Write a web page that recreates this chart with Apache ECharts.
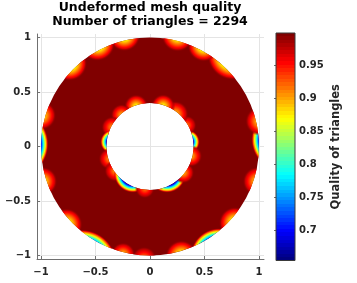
<!DOCTYPE html>
<html>
<head>
<meta charset="utf-8">
<script src="https://cdn.jsdelivr.net/npm/echarts@6/dist/echarts.min.js"></script>
<style>html,body{margin:0;padding:0;background:#fff}#c{width:357px;height:283px}</style>
</head>
<body>
<div id="c"></div>
<script>
// ---------------- data ----------------
const chartTitle = 'Undeformed mesh quality\nNumber of triangles = 2294';
const colorbarTitle = 'Quality of triangles';
const axisTicks = [-1, -0.5, 0, 0.5, 1];
const colorbarTicks = [0.7, 0.75, 0.8, 0.85, 0.9, 0.95];
const qualityLimits = [0.655, 0.999];
const ringRadii = [0.4, 1.0];          // inner, outer radius of the annulus
const bulkQuality = 0.999;              // quality of most triangles

// low-quality spots along the boundaries ('o' outer, 'i' inner)
const spotEdge    = ['o','o','o','o','o','o','o','o','o','o','o','o','o','o','o','o','o','o','o',
                     'i','i','i','i','i','i','i','i','i','i','i','i','i','i','i'];
const spotAngle   = [  3,  13,  48,  62,  76, 103, 117, 134, 164, 179, 198, 223, 240, 256, 267, 286, 302, 318, 342,
                       7,  30,  52,  72, 109, 132, 153, 173, 197, 215, 238, 263, 302, 322, 347];
const spotQuality = [0.71,0.90,0.87,0.87,0.88,0.87,0.87,0.87,0.89,0.70,0.89,0.88,0.76,0.90,0.93,0.88,0.73,0.88,0.90,
                     0.70,0.92,0.90,0.87,0.87,0.90,0.91,0.70,0.91,0.91,0.67,0.92,0.67,0.90,0.90];
const spotDepth   = [0.07,0.10,0.10,0.10,0.10,0.10,0.10,0.10,0.10,0.07,0.10,0.10,0.07,0.09,0.08,0.10,0.07,0.10,0.10,
                     0.06,0.08,0.10,0.10,0.10,0.09,0.09,0.06,0.09,0.09,0.07,0.08,0.07,0.09,0.09];
const spotHalfLen = [0.19,0.13,0.19,0.14,0.14,0.14,0.15,0.15,0.13,0.20,0.13,0.14,0.20,0.11,0.11,0.14,0.18,0.14,0.13,
                     0.10,0.09,0.12,0.11,0.11,0.10,0.10,0.10,0.10,0.10,0.14,0.09,0.14,0.10,0.10];

// ---------------- helpers ----------------
const FONT = 'DejaVu Sans';
const TXT = '#262626';
const LINE = '#707070';
function jet(q, alpha) {
  let t = (q - qualityLimits[0]) / (qualityLimits[1] - qualityLimits[0]);
  t = Math.max(0, Math.min(1, t));
  const c = v => Math.round(255 * Math.max(0, Math.min(1, v)));
  const r = c(1.5 - Math.abs(4 * t - 3)), g = c(1.5 - Math.abs(4 * t - 2)), b = c(1.5 - Math.abs(4 * t - 1));
  return 'rgba(' + r + ',' + g + ',' + b + ',' + (alpha == null ? 1 : alpha) + ')';
}
const fmt = v => String(v).replace('-', '\u2212');

const spotData = spotAngle.map((a, i) => [a, spotQuality[i], spotDepth[i], spotHalfLen[i], spotEdge[i] === 'o' ? 1 : -1]);

// colorbar bands (64-colour jet map)
const cbStops = [];
for (let k = 0; k < 64; k++) {
  const col = jet(qualityLimits[1] - (qualityLimits[1] - qualityLimits[0]) * k / 63);
  cbStops.push({offset: k / 64, color: col}, {offset: (k + 1) / 64, color: col});
}

const chart = echarts.init(document.getElementById('c'), null, {renderer: 'canvas'});
chart.setOption({
  animation: false,
  backgroundColor: '#fff',
  title: {
    text: chartTitle, left: 150, top: 1, padding: 0, textAlign: 'center',
    textStyle: {fontFamily: FONT, fontSize: 12.5, fontWeight: 'bold', color: '#000', lineHeight: 14}
  },
  grid: [
    {left: 37, top: 34, width: 227, height: 225},
    {left: 276, top: 33, width: 19, height: 227.5}
  ],
  xAxis: [
    {gridIndex: 0, type: 'value', min: -1.0367, max: 1.0459,
     axisLine: {show: true, onZero: false, lineStyle: {color: LINE}},
     axisTick: {show: true, inside: true, length: 3, customValues: axisTicks, lineStyle: {color: LINE}},
     axisLabel: {customValues: axisTicks, formatter: fmt, margin: 8, fontSize: 10, fontWeight: 'bold', color: TXT, fontFamily: FONT},
     splitLine: {show: true, lineStyle: {color: '#e4e4e4'}}},
    {gridIndex: 1, type: 'value', min: 0, max: 1, show: false}
  ],
  yAxis: [
    {gridIndex: 0, type: 'value', min: -1.032, max: 1.032,
     axisLine: {show: true, onZero: false, lineStyle: {color: LINE}},
     axisTick: {show: true, inside: true, length: 3, customValues: axisTicks, lineStyle: {color: LINE}},
     axisLabel: {customValues: axisTicks, formatter: fmt, margin: 6, fontSize: 10, fontWeight: 'bold', color: TXT, fontFamily: FONT},
     splitLine: {show: true, lineStyle: {color: '#e4e4e4'}}},
    {gridIndex: 1, type: 'value', position: 'right', min: qualityLimits[0], max: qualityLimits[1],
     axisLine: {show: false},
     axisTick: {show: true, inside: true, length: 2, customValues: colorbarTicks, lineStyle: {color: LINE}},
     axisLabel: {customValues: colorbarTicks, margin: 4, fontSize: 10, fontWeight: 'bold', color: TXT, fontFamily: FONT},
     splitLine: {show: false},
     name: colorbarTitle, nameLocation: 'middle', nameRotate: 90, nameGap: 35,
     nameTextStyle: {fontFamily: FONT, fontSize: 11.5, fontWeight: 'bold', color: TXT}}
  ],
  series: [
    { // the annulus of triangles
      type: 'custom', xAxisIndex: 0, yAxisIndex: 0, silent: true,
      data: [[ringRadii[0], ringRadii[1], bulkQuality]],
      renderItem: (params, api) => {
        const O = api.coord([0, 0]);
        const unit = api.size([1, 1])[0];
        return {type: 'sector', shape: {cx: O[0], cy: O[1], r0: api.value(0) * unit, r: api.value(1) * unit,
                startAngle: 0, endAngle: Math.PI * 2}, style: {fill: jet(api.value(2))}};
      }
    },
    { // low-quality spots near the boundaries
      type: 'custom', xAxisIndex: 0, yAxisIndex: 0, silent: true,
      data: spotData,
      renderItem: (params, api) => {
        const a = api.value(0) * Math.PI / 180, q = api.value(1), t = api.value(2);
        const L = Math.max(api.value(3), t), side = api.value(4);
        const Rb = side > 0 ? ringRadii[1] : ringRadii[0];
        const d = (L * L / t - t) / 2, rho = d + t;
        const Rc = Rb + side * d;
        const C = api.coord([Rc * Math.cos(a), Rc * Math.sin(a)]);
        const O = api.coord([0, 0]);
        const unit = api.size([1, 1])[0];
        const half = Math.abs(Rc) > rho ? Math.asin(rho / Math.abs(Rc)) + 0.02 : Math.PI;
        const o0 = d / rho;
        const stops = [{offset: 0, color: jet(q)}, {offset: o0, color: jet(q)}];
        const N = 16;
        for (let k = 1; k <= N; k++) {
          const u = k / N;
          const qq = q + (1 - q) * u;
          stops.push({offset: o0 + (1 - o0) * u, color: jet(qq, u < 0.75 ? 1 : (1 - u) / 0.25)});
        }
        return {type: 'sector',
                shape: {cx: O[0], cy: O[1], r0: ringRadii[0] * unit, r: ringRadii[1] * unit,
                        startAngle: -a - half, endAngle: -a + half, clockwise: true},
                style: {fill: {type: 'radial', x: C[0], y: C[1], r: rho * unit, colorStops: stops, global: true}}};
      }
    },
    { // colorbar
      type: 'custom', xAxisIndex: 1, yAxisIndex: 1, silent: true,
      data: [[0, 1, qualityLimits[0], qualityLimits[1]]],
      renderItem: (params, api) => {
        const p0 = api.coord([api.value(0), api.value(3)]);
        const p1 = api.coord([api.value(1), api.value(2)]);
        return {type: 'rect', shape: {x: p0[0], y: p0[1], width: p1[0] - p0[0], height: p1[1] - p0[1]},
                style: {fill: {type: 'linear', x: 0, y: 0, x2: 0, y2: 1, colorStops: cbStops}, stroke: '#3a3a3a', lineWidth: 1}};
      }
    }
  ]
});
</script>
</body>
</html>
